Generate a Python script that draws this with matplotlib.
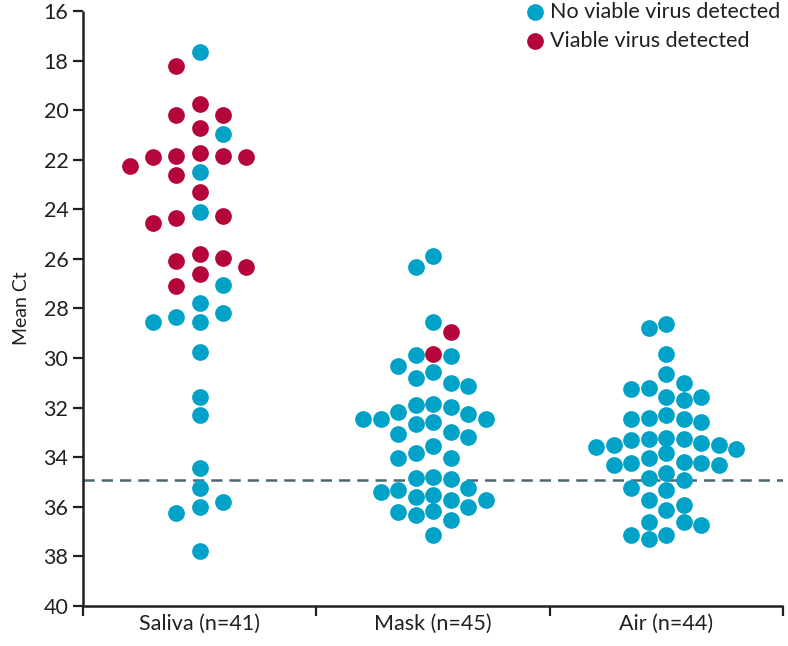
import numpy as np
import matplotlib
matplotlib.use("Agg")
import matplotlib.pyplot as plt

# Mean Ct values, split by culture result
groups = ["Saliva (n=41)", "Mask (n=45)", "Air (n=44)"]

saliva_viable = [18.21, 19.77, 20.21, 20.18, 20.71, 21.87, 21.86, 21.83, 21.72, 21.88,
                 22.26, 22.61, 23.32, 24.34, 24.54, 24.26, 25.81, 26.07, 25.95, 26.32,
                 26.62, 27.11]
saliva_no_viable = [17.67, 20.98, 22.49, 24.10, 27.07, 27.78, 28.54, 28.35, 28.20, 28.54,
                    29.75, 31.55, 32.30, 34.45, 35.26, 35.99, 36.26, 35.81, 37.77]

mask_viable = [28.94, 29.85]
mask_no_viable = [25.87, 26.31, 28.55, 29.87, 29.91, 30.30, 30.56, 30.82, 31.00, 31.14,
                  31.86, 31.91, 31.99, 32.18, 32.25, 32.44, 32.45, 32.47, 32.59, 32.65,
                  33.00, 33.07, 33.17, 33.53, 33.84, 34.04, 34.04, 34.79, 34.85, 34.88,
                  35.23, 35.33, 35.39, 35.53, 35.60, 35.73, 35.73, 36.00, 36.17, 36.20,
                  36.34, 36.54, 37.12]

air_viable = []
air_no_viable = [33.28, 33.57, 34.24, 31.55, 32.40, 33.50, 34.18, 34.92, 37.15, 28.62,
                 31.24, 32.45, 33.66, 34.24, 34.85, 35.73, 36.61, 28.78, 29.83, 31.00,
                 31.68, 32.56, 33.41, 34.02, 35.32, 36.13, 37.12, 30.64, 31.55, 32.29,
                 33.21, 33.84, 34.65, 35.26, 35.91, 36.74, 31.21, 32.45, 33.50, 34.31,
                 36.61, 37.28, 33.25, 34.31, 33.29]

cutoff_ct = 34.9
y_ticks = list(range(16, 41, 2))

CYAN = "#00A2C7"
RED = "#B4063B"
AXIS = "#231F20"


def swarm_offsets(values, min_gap=0.62, half_width=0.3, max_step=0.118):
    """Prism-like column swarm: each point goes to the most central free column."""
    values = np.asarray(values, dtype=float)
    cols = np.zeros(len(values), dtype=int)
    last = {}
    for i in np.argsort(values, kind="stable"):
        v = values[i]
        cand = sorted(range(-8, 9), key=lambda c: (abs(c), last.get(c, -np.inf)))
        for c in cand:
            if c not in last or v - last[c] >= min_gap:
                cols[i] = c
                last[c] = v
                break
    widest = max(np.abs(cols).max(), 1)
    step = min(max_step, half_width / widest)
    return cols * step


plt.rcParams["font.family"] = ["Lato", "DejaVu Sans"]

fig = plt.figure(figsize=(7.88, 6.46), dpi=100)
ax = fig.add_axes([0.1053, 0.0619, 0.8884, 0.9211])

data = [(saliva_viable, saliva_no_viable),
        (mask_viable, mask_no_viable),
        (air_viable, air_no_viable)]

for gi, (viable, no_viable) in enumerate(data):
    ct = np.array(no_viable + viable)
    is_viable = np.array([False] * len(no_viable) + [True] * len(viable))
    x = gi + 0.5 + swarm_offsets(ct)
    ax.scatter(x[~is_viable], ct[~is_viable], s=145, color=CYAN, linewidths=0,
               zorder=3, label="No viable virus detected" if gi == 0 else None)
    ax.scatter(x[is_viable], ct[is_viable], s=145, color=RED, linewidths=0,
               zorder=3, label="Viable virus detected" if gi == 0 else None)

ax.axhline(cutoff_ct, color="#4D6671", lw=1.8, ls=(0, (4.5, 2.8)), zorder=2)

ax.set_xlim(0, 3)
ax.set_ylim(40, 16)
ax.set_yticks(y_ticks)
ax.set_xticks([0, 1, 2, 3])
ax.set_xticklabels([])
ax.set_xticks([0.5, 1.5, 2.5], minor=True)
ax.set_xticklabels(groups, minor=True)
ax.tick_params(axis="x", which="minor", length=0, pad=6, labelsize=15.5, colors=AXIS)
ax.tick_params(axis="x", which="major", length=7.5, width=1.6, color=AXIS)
ax.tick_params(axis="y", length=7.5, width=1.6, color=AXIS, labelsize=15.5,
               labelcolor=AXIS, pad=3)
ax.set_ylabel("Mean Ct", fontsize=14, color=AXIS, labelpad=10)

for side in ["top", "right"]:
    ax.spines[side].set_visible(False)
for side in ["left", "bottom"]:
    ax.spines[side].set_linewidth(1.8)
    ax.spines[side].set_color(AXIS)
    ax.spines[side].set_capstyle("butt")

leg = ax.legend(loc="upper right", bbox_to_anchor=(1.008, 1.03), frameon=False,
                fontsize=15.5, handletextpad=0.2, labelspacing=0.42,
                borderaxespad=0, handlelength=1.0, markerscale=1.0)
for t in leg.get_texts():
    t.set_color(AXIS)

fig.savefig("out.png", dpi=100)
